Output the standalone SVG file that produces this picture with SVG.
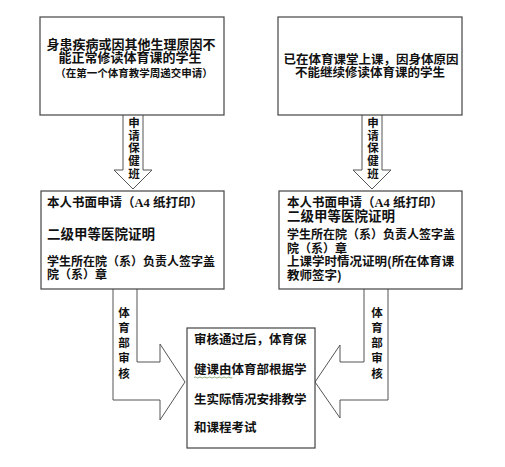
<svg xmlns="http://www.w3.org/2000/svg" width="505" height="467" viewBox="0 0 505 467">
<style>
.box{fill:#fff;stroke:#444;stroke-width:1.2}
.arr{fill:#fff;stroke:#555;stroke-width:1}
text{font-family:"Noto Sans CJK SC","Noto Sans CJK TC",sans-serif;font-weight:bold;fill:#111}
.t13{font-size:13px}
.t12{font-size:12px}
.t125{font-size:12.5px}
.t135{font-size:13.5px}
.s{font-size:10.5px}
.v{font-size:11.5px;text-anchor:middle}
.c{text-anchor:middle}
.lat{font-family:"Liberation Serif",serif}
</style>
<rect width="505" height="467" fill="#fff"/>
<g id="connectors">
  <path class="arr" d="M123,115 V170 H114 L133,189 L152,170 H143 V115"/>
  <path class="arr" d="M362,115 V170 H353 L372,189 L391,170 H382 V115"/>
  <path class="arr" d="M113,289 V400 H160 V420 L185,382 L160,344 V362 H137 V289"/>
  <path class="arr" d="M388,289 V400 H340 V418 L315,382 L340,345 V362 H364 V289"/>
  <text class="v"><tspan x="134" y="127">申</tspan><tspan x="134" y="139.5">请</tspan><tspan x="134" y="152">保</tspan><tspan x="134" y="164.5">健</tspan><tspan x="134" y="177.5">班</tspan></text>
  <text class="v"><tspan x="373" y="127">申</tspan><tspan x="373" y="139.5">请</tspan><tspan x="373" y="152">保</tspan><tspan x="373" y="164.5">健</tspan><tspan x="373" y="177.5">班</tspan></text>
  <text class="v"><tspan x="124" y="317">体</tspan><tspan x="124" y="332">育</tspan><tspan x="124" y="347">部</tspan><tspan x="124" y="362">审</tspan><tspan x="124" y="378">核</tspan></text>
  <text class="v"><tspan x="377" y="317">体</tspan><tspan x="377" y="332">育</tspan><tspan x="377" y="347">部</tspan><tspan x="377" y="362">审</tspan><tspan x="377" y="378">核</tspan></text>
</g>
<g id="node-top-left">
  <rect class="box" x="40" y="17" width="184" height="98"/>
  <text class="c"><tspan class="t13" x="131" y="48.5">身患疾病或因其他生理原因不</tspan><tspan class="t13" x="130" y="62">能正常修读体育课的学生</tspan><tspan class="s" x="134" y="77">（在第一个体育教学周递交申请）</tspan></text>
</g>
<g id="node-top-right">
  <rect class="box" x="278" y="17" width="184" height="98"/>
  <text class="t125 c"><tspan x="371" y="63.5">已在体育课堂上课，因身体原因</tspan><tspan x="370" y="77">不能继续修读体育课的学生</tspan></text>
</g>
<g id="node-mid-left">
  <rect class="box" x="41" y="191" width="183" height="98"/>
  <text class="t12"><tspan class="t125" x="47" y="207">本人书面申请（<tspan class="lat">A4 </tspan>纸打印）</tspan><tspan class="t135" x="47" y="239">二级甲等医院证明</tspan><tspan x="47" y="266">学生所在院（系）负责人签字盖</tspan><tspan x="47" y="278.5">院（系）章</tspan></text>
</g>
<g id="node-mid-right">
  <rect class="box" x="279" y="191" width="183" height="98"/>
  <text class="t12"><tspan class="t125" x="287" y="207">本人书面申请（<tspan class="lat">A4 </tspan>纸打印）</tspan><tspan class="t135" x="287" y="221">二级甲等医院证明</tspan><tspan x="287" y="238.5">学生所在院（系）负责人签字盖</tspan><tspan x="287" y="252.5">院（系）章</tspan><tspan class="t125" x="287" y="266">上课学时情况证明(所在体育课</tspan><tspan class="t125" x="287" y="280">教师签字)</tspan></text>
</g>
<g id="node-bottom">
  <rect class="box" x="187" y="328" width="128" height="120"/>
  <text class="t125"><tspan x="194" y="343.5">审核通过后，体育保</tspan><tspan x="194" y="373.5">健课由体育部根据学</tspan><tspan x="194" y="403.5">生实际情况安排教学</tspan><tspan x="194" y="432">和课程考试</tspan></text>
  <path d="M194,377.5 q1.2,-1 2.4,0 t2.4,0 t2.4,0 t2.4,0 t2.4,0 t2.4,0 t2.4,0 t2.4,0 t2.4,0 t2.4,0 t2.4,0 t2.4,0 t2.4,0 t2.4,0 t2.4,0 t2.4,0" fill="none" stroke="#6b9a5a" stroke-width="0.8"/>
</g>
</svg>
